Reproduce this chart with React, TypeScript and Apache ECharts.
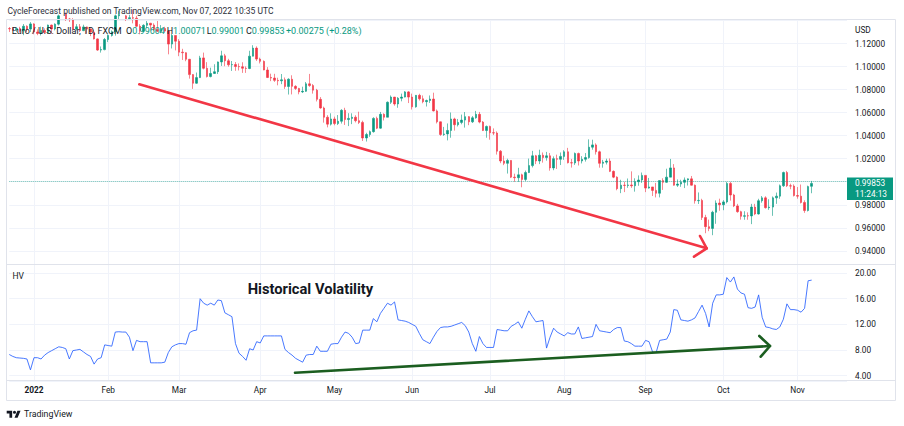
import React, { useEffect, useRef } from 'react';
import * as echarts from 'echarts';

// ---------- DATA (EUR/USD daily, [open, close, low, high]) ----------
const dec21 = [
  [1.1330, 1.1327, 1.1300, 1.1343], [1.1327, 1.1320, 1.1310, 1.1340], [1.1320, 1.1330, 1.1300, 1.1335],
  [1.1330, 1.1310, 1.1295, 1.1345], [1.1310, 1.1350, 1.1272, 1.1369], [1.1350, 1.1325, 1.1300, 1.1358],
  [1.1325, 1.1370, 1.1300, 1.1386],
];
const jan22 = [
  [1.1370, 1.1300, 1.1280, 1.1376], [1.1300, 1.1287, 1.1272, 1.1323], [1.1287, 1.1313, 1.1270, 1.1346],
  [1.1313, 1.1296, 1.1285, 1.1331], [1.1296, 1.1360, 1.1286, 1.1364], [1.1360, 1.1326, 1.1285, 1.1364],
  [1.1326, 1.1368, 1.1314, 1.1375], [1.1368, 1.1440, 1.1356, 1.1451], [1.1440, 1.1455, 1.1426, 1.1482],
  [1.1455, 1.1413, 1.1396, 1.1469], [1.1413, 1.1408, 1.1387, 1.1422], [1.1408, 1.1326, 1.1313, 1.1420],
  [1.1326, 1.1345, 1.1312, 1.1368], [1.1345, 1.1312, 1.1300, 1.1369], [1.1312, 1.1344, 1.1307, 1.1363],
  [1.1344, 1.1325, 1.1285, 1.1347], [1.1325, 1.1300, 1.1264, 1.1330], [1.1300, 1.1240, 1.1235, 1.1320],
  [1.1240, 1.1143, 1.1136, 1.1245], [1.1143, 1.1147, 1.1121, 1.1174], [1.1147, 1.1235, 1.1141, 1.1248],
];
const feb22 = [
  [1.1235, 1.1270, 1.1212, 1.1280], [1.1270, 1.1302, 1.1260, 1.1314], [1.1302, 1.1440, 1.1268, 1.1451],
  [1.1440, 1.1452, 1.1405, 1.1483], [1.1452, 1.1440, 1.1418, 1.1475], [1.1440, 1.1415, 1.1395, 1.1446],
  [1.1415, 1.1424, 1.1409, 1.1449], [1.1424, 1.1420, 1.1375, 1.1495], [1.1420, 1.1350, 1.1341, 1.1440],
  [1.1350, 1.1307, 1.1280, 1.1368], [1.1307, 1.1358, 1.1300, 1.1367], [1.1358, 1.1376, 1.1335, 1.1395],
  [1.1376, 1.1360, 1.1314, 1.1379], [1.1360, 1.1322, 1.1310, 1.1375], [1.1322, 1.1306, 1.1300, 1.1395],
  [1.1306, 1.1330, 1.1289, 1.1360], [1.1330, 1.1308, 1.1297, 1.1345], [1.1308, 1.1195, 1.1106, 1.1312],
  [1.1195, 1.1270, 1.1157, 1.1283], [1.1270, 1.1220, 1.1140, 1.1271],
];
const mar22 = [
  [1.1220, 1.1125, 1.1090, 1.1238], [1.1125, 1.1120, 1.1057, 1.1154], [1.1120, 1.1063, 1.1046, 1.1124],
  [1.1063, 1.0930, 1.0895, 1.1066], [1.0930, 1.0855, 1.0806, 1.0934], [1.0855, 1.0904, 1.0850, 1.0948],
  [1.0904, 1.1075, 1.0900, 1.1093], [1.1075, 1.0985, 1.0975, 1.1121], [1.0985, 1.0913, 1.0905, 1.1038],
  [1.0913, 1.0940, 1.0906, 1.0990], [1.0940, 1.0955, 1.0936, 1.1020], [1.0955, 1.1040, 1.0935, 1.1044],
  [1.1040, 1.1093, 1.1005, 1.1137], [1.1093, 1.1050, 1.1003, 1.1110], [1.1050, 1.1015, 1.0999, 1.1067],
  [1.1015, 1.1017, 1.0962, 1.1048], [1.1017, 1.1000, 1.0963, 1.1039], [1.1000, 1.0998, 1.0966, 1.1027],
  [1.0998, 1.0985, 1.0945, 1.1037], [1.0985, 1.0983, 1.0945, 1.1001], [1.0983, 1.1090, 1.0977, 1.1137],
  [1.1090, 1.1160, 1.1088, 1.1185], [1.1160, 1.1065, 1.1049, 1.1175],
];
const apr22 = [
  [1.1065, 1.1045, 1.1027, 1.1077], [1.1045, 1.0970, 1.0968, 1.1053], [1.0970, 1.0905, 1.0900, 1.0995],
  [1.0905, 1.0900, 1.0873, 1.0938], [1.0900, 1.0880, 1.0867, 1.0937], [1.0880, 1.0876, 1.0837, 1.0903],
  [1.0876, 1.0885, 1.0847, 1.0935], [1.0885, 1.0827, 1.0806, 1.0905], [1.0827, 1.0890, 1.0757, 1.0898],
  [1.0890, 1.0828, 1.0758, 1.0924], [1.0828, 1.0810, 1.0797, 1.0838], [1.0810, 1.0780, 1.0759, 1.0815],
  [1.0780, 1.0785, 1.0770, 1.0825], [1.0785, 1.0850, 1.0780, 1.0866], [1.0850, 1.0835, 1.0824, 1.0936],
  [1.0835, 1.0795, 1.0765, 1.0848], [1.0795, 1.0715, 1.0697, 1.0806], [1.0715, 1.0640, 1.0634, 1.0735],
  [1.0640, 1.0560, 1.0513, 1.0652], [1.0560, 1.0500, 1.0472, 1.0578], [1.0500, 1.0545, 1.0488, 1.0594],
];
const may22 = [
  [1.0545, 1.0505, 1.0490, 1.0565], [1.0505, 1.0525, 1.0492, 1.0579], [1.0525, 1.0620, 1.0505, 1.0630],
  [1.0620, 1.0540, 1.0493, 1.0642], [1.0540, 1.0550, 1.0483, 1.0595], [1.0550, 1.0560, 1.0500, 1.0594],
  [1.0560, 1.0530, 1.0515, 1.0577], [1.0530, 1.0515, 1.0501, 1.0608], [1.0515, 1.0380, 1.0354, 1.0530],
  [1.0380, 1.0410, 1.0349, 1.0425], [1.0410, 1.0435, 1.0390, 1.0445], [1.0435, 1.0550, 1.0426, 1.0560],
  [1.0550, 1.0465, 1.0457, 1.0565], [1.0465, 1.0585, 1.0460, 1.0606], [1.0585, 1.0560, 1.0532, 1.0594],
  [1.0560, 1.0690, 1.0560, 1.0697], [1.0690, 1.0735, 1.0675, 1.0749], [1.0735, 1.0675, 1.0660, 1.0736],
  [1.0675, 1.0725, 1.0642, 1.0735], [1.0725, 1.0735, 1.0698, 1.0765], [1.0735, 1.0780, 1.0732, 1.0787],
  [1.0780, 1.0735, 1.0683, 1.0787],
];
const jun22 = [
  [1.0735, 1.0650, 1.0627, 1.0765], [1.0650, 1.0750, 1.0643, 1.0752], [1.0750, 1.0720, 1.0705, 1.0764],
  [1.0720, 1.0695, 1.0681, 1.0749], [1.0695, 1.0705, 1.0653, 1.0713], [1.0705, 1.0718, 1.0684, 1.0749],
  [1.0718, 1.0615, 1.0610, 1.0773], [1.0615, 1.0520, 1.0506, 1.0627], [1.0520, 1.0410, 1.0398, 1.0522],
  [1.0410, 1.0415, 1.0398, 1.0476], [1.0415, 1.0445, 1.0359, 1.0506], [1.0445, 1.0545, 1.0382, 1.0601],
  [1.0545, 1.0495, 1.0444, 1.0556], [1.0495, 1.0515, 1.0480, 1.0545], [1.0515, 1.0535, 1.0499, 1.0583],
  [1.0535, 1.0565, 1.0470, 1.0605], [1.0565, 1.0520, 1.0491, 1.0570], [1.0520, 1.0555, 1.0510, 1.0570],
  [1.0555, 1.0585, 1.0547, 1.0615], [1.0585, 1.0518, 1.0507, 1.0606], [1.0518, 1.0445, 1.0440, 1.0527],
  [1.0445, 1.0480, 1.0382, 1.0488],
];
const jul22 = [
  [1.0480, 1.0425, 1.0365, 1.0487], [1.0425, 1.0423, 1.0405, 1.0463], [1.0423, 1.0265, 1.0236, 1.0437],
  [1.0265, 1.0180, 1.0161, 1.0275], [1.0180, 1.0160, 1.0144, 1.0226], [1.0160, 1.0185, 1.0071, 1.0200],
  [1.0185, 1.0040, 1.0032, 1.0187], [1.0040, 1.0035, 0.9999, 1.0070], [1.0035, 1.0060, 0.9998, 1.0121],
  [1.0060, 1.0020, 0.9952, 1.0070], [1.0020, 1.0080, 1.0006, 1.0097], [1.0080, 1.0140, 1.0075, 1.0201],
  [1.0140, 1.0225, 1.0124, 1.0268], [1.0225, 1.0180, 1.0153, 1.0233], [1.0180, 1.0230, 1.0153, 1.0278],
  [1.0230, 1.0210, 1.0166, 1.0254], [1.0210, 1.0225, 1.0183, 1.0259], [1.0225, 1.0120, 1.0096, 1.0249],
  [1.0120, 1.0200, 1.0100, 1.0220], [1.0200, 1.0195, 1.0111, 1.0235], [1.0195, 1.0220, 1.0145, 1.0254],
];
const aug22 = [
  [1.0220, 1.0260, 1.0190, 1.0274], [1.0260, 1.0165, 1.0159, 1.0294], [1.0165, 1.0163, 1.0123, 1.0198],
  [1.0163, 1.0245, 1.0146, 1.0254], [1.0245, 1.0180, 1.0141, 1.0253], [1.0180, 1.0195, 1.0159, 1.0222],
  [1.0195, 1.0210, 1.0175, 1.0249], [1.0210, 1.0300, 1.0200, 1.0368], [1.0300, 1.0320, 1.0278, 1.0365],
  [1.0320, 1.0260, 1.0236, 1.0333], [1.0260, 1.0160, 1.0122, 1.0270], [1.0160, 1.0170, 1.0122, 1.0190],
  [1.0170, 1.0180, 1.0150, 1.0200], [1.0180, 1.0090, 1.0084, 1.0202], [1.0090, 1.0040, 1.0031, 1.0098],
  [1.0040, 0.9940, 0.9926, 1.0047], [0.9940, 0.9970, 0.9901, 1.0017], [0.9970, 0.9968, 0.9910, 0.9999],
  [0.9968, 0.9972, 0.9947, 1.0028], [0.9972, 0.9965, 0.9947, 1.0090], [0.9965, 1.0000, 0.9914, 1.0030],
  [1.0000, 1.0015, 0.9965, 1.0055], [1.0015, 1.0055, 0.9990, 1.0080],
];
const sep22 = [
  [1.0055, 0.9945, 0.9910, 1.0056], [0.9945, 0.9955, 0.9940, 1.0033], [0.9955, 0.9925, 0.9876, 0.9955],
  [0.9925, 0.9900, 0.9864, 0.9990], [0.9900, 1.0010, 0.9864, 1.0011], [1.0010, 0.9995, 0.9929, 1.0030],
  [0.9995, 1.0040, 0.9990, 1.0113], [1.0040, 1.0120, 1.0040, 1.0198], [1.0120, 0.9970, 0.9966, 1.0153],
  [0.9970, 0.9980, 0.9955, 1.0020], [0.9980, 0.9995, 0.9956, 1.0017], [0.9995, 1.0015, 0.9945, 1.0037],
  [1.0015, 1.0025, 0.9967, 1.0029], [1.0025, 0.9970, 0.9967, 1.0050], [0.9970, 0.9835, 0.9810, 0.9976],
  [0.9835, 0.9838, 0.9807, 0.9907], [0.9838, 0.9690, 0.9668, 0.9852], [0.9690, 0.9610, 0.9553, 0.9713],
  [0.9610, 0.9595, 0.9571, 0.9671], [0.9595, 0.9735, 0.9536, 0.9748], [0.9735, 0.9815, 0.9635, 0.9838],
  [0.9815, 0.9800, 0.9748, 0.9853],
];
const oct22 = [
  [0.9800, 0.9825, 0.9753, 0.9840], [0.9825, 0.9985, 0.9812, 0.9999], [0.9985, 0.9885, 0.9836, 0.9999],
  [0.9885, 0.9790, 0.9780, 0.9895], [0.9790, 0.9740, 0.9731, 0.9808], [0.9740, 0.9700, 0.9671, 0.9748],
  [0.9700, 0.9705, 0.9670, 0.9744], [0.9705, 0.9703, 0.9670, 0.9734], [0.9703, 0.9780, 0.9632, 0.9808],
  [0.9780, 0.9720, 0.9710, 0.9808], [0.9720, 0.9835, 0.9715, 0.9852], [0.9835, 0.9860, 0.9818, 0.9876],
  [0.9860, 0.9775, 0.9767, 0.9874], [0.9775, 0.9780, 0.9756, 0.9848], [0.9780, 0.9860, 0.9704, 0.9872],
  [0.9860, 0.9875, 0.9808, 0.9906], [0.9875, 0.9965, 0.9852, 0.9976], [0.9965, 1.0080, 0.9955, 1.0088],
  [1.0080, 0.9965, 0.9954, 1.0094], [0.9965, 0.9962, 0.9935, 0.9983], [0.9962, 0.9880, 0.9872, 0.9977],
];
const nov22 = [
  [0.9880, 0.9875, 0.9853, 0.9954], [0.9875, 0.9820, 0.9811, 0.9976], [0.9820, 0.9750, 0.9730, 0.9839],
  [0.9750, 0.99578, 0.9742, 0.9966], [0.99604, 0.99853, 0.99001, 1.00071],
];

// Historical volatility (10) per bar
const hvDec = [7.3, 7.0, 6.8, 6.75, 6.7, 6.6, 4.9];
const hvJan = [6.8, 6.8, 6.6, 7.2, 7.6, 7.9, 8.2, 8.5, 8.4, 8.2, 6.6, 7.9, 8.0, 8.1, 7.7, 7.3, 7.0, 5.8, 6.6, 6.8, 8.8];
const hvFeb = [8.7, 8.6, 10.8, 10.85, 10.8, 10.8, 10.0, 7.9, 9.5, 9.3, 9.3, 9.3, 6.0, 6.0, 6.0, 6.0, 6.1, 7.6, 8.5, 8.8];
const hvMar = [9.0, 9.0, 8.9, 10.7, 11.0, 11.1, 16.0, 15.3, 15.0, 15.3, 15.0, 15.8, 15.7, 13.8, 13.5, 13.2, 9.0, 7.5, 7.0, 6.4, 8.2, 8.0, 9.3];
const hvApr = [9.1, 10.2, 10.2, 10.2, 10.2, 10.2, 10.2, 8.1, 7.6, 7.2, 6.7, 6.4, 6.1, 7.2, 7.3, 7.3, 8.6, 7.8, 7.8, 7.8, 8.9];
const hvMay = [9.0, 9.0, 10.0, 10.8, 10.6, 10.0, 9.0, 9.1, 11.1, 11.1, 11.1, 12.9, 12.4, 13.7, 14.5, 15.3, 15.0, 15.5, 12.7, 12.6, 12.5, 12.3];
const hvJun = [12.0, 11.7, 10.6, 9.6, 9.3, 9.0, 10.0, 10.9, 11.5, 11.6, 11.6, 11.7, 11.9, 12.1, 12.3, 11.8, 10.8, 9.0, 7.8, 10.1, 9.0, 8.4];
const hvJul = [8.4, 8.4, 11.2, 11.1, 11.0, 11.0, 11.7, 12.0, 12.4, 11.4, 12.8, 14.1, 13.2, 12.4, 12.5, 12.6, 8.3, 10.0, 11.4, 10.8, 10.5];
const hvAug = [10.2, 10.7, 10.5, 10.5, 11.6, 9.8, 9.9, 10.0, 10.1, 12.0, 11.0, 10.9, 10.8, 10.7, 11.2, 11.5, 11.5, 9.4, 9.3, 9.0, 8.6, 8.6, 8.6];
const hvSep = [9.5, 9.3, 7.7, 7.6, 9.5, 9.6, 9.7, 10.8, 14.3, 14.2, 12.7, 12.6, 12.5, 12.7, 13.0, 14.0, 15.0, 13.7, 11.6, 15.3, 16.6, 16.6];
const hvOct = [16.7, 19.3, 18.6, 19.4, 17.5, 16.9, 16.7, 14.6, 14.5, 14.7, 16.6, 13.1, 11.6, 11.5, 11.3, 11.2, 11.6, 12.8, 15.2, 14.3, 14.3];
const hvNov = [14.2, 13.9, 14.5, 18.8, 18.9];

const MONTHS = ['Jan', 'Feb', 'Mar', 'Apr', 'May', 'Jun', 'Jul', 'Aug', 'Sep', 'Oct', 'Nov', 'Dec'];
const LAST_CLOSE = 0.99853;
const CLOCK = '11:24:13';
const TITLE = 'CycleForecast published on TradingView.com, Nov 07, 2022 10:35 UTC';
const SYMBOL = 'Euro / U.S. Dollar, 1D, FXCM';
const LEGEND = [
  ['O', '0.99604'], ['H', '1.00071'], ['L', '0.99001'], ['C', '0.99853'], ['', '+0.00275 (+0.28%)'],
];
const PRICE_MIN = 0.92859;
const PRICE_MAX = 1.14127;
const HV_MIN = 3.166;
const HV_MAX = 21.416;
const RIGHT_PAD_BARS = 10;

// ---------- styling ----------
const UP = '#089981';
const DOWN = '#f23645';
const TEXT = '#131722';
const GRID = '#f0f3fa';
const BORDER = '#e0e3eb';
const FONT = 'Roboto, "Noto Sans", sans-serif';

echarts.graphic.registerShape(
  'tvlogo',
  echarts.graphic.extendPath('M14 22H7V11H0V4h14v18zM28 22h-8l7.5-18h8L28 22zM24 8a4 4 0 1 1-8 0a4 4 0 1 1 8 0z', {})
);

const ohlc = [...dec21, ...jan22, ...feb22, ...mar22, ...apr22, ...may22, ...jun22, ...jul22, ...aug22, ...sep22, ...oct22, ...nov22];
const hv = [...hvDec, ...hvJan, ...hvFeb, ...hvMar, ...hvApr, ...hvMay, ...hvJun, ...hvJul, ...hvAug, ...hvSep, ...hvOct, ...hvNov];

function buildDates(n: number): string[] {
  const out: string[] = [];
  let t = Date.UTC(2021, 11, 23);
  while (out.length < n) {
    const d = new Date(t);
    const wd = d.getUTCDay();
    if (wd !== 0 && wd !== 6) out.push(d.toISOString().slice(0, 10));
    t += 86400000;
  }
  return out;
}
const dates = buildDates(ohlc.length + RIGHT_PAD_BARS);
const isMonthStart = (i: number) => i > 0 && dates[i].slice(5, 7) !== dates[i - 1].slice(5, 7);

function txt(x: number, y: number, text: string, size: number, color: string, weight = 'normal', extra: any = {}) {
  return {
    type: 'text', x, y, z: 100, silent: true,
    style: {
      text, fill: color, fontSize: size, fontFamily: FONT, fontWeight: weight,
      align: 'left', verticalAlign: 'middle', textAlign: 'left', textVerticalAlign: 'middle', ...extra,
    },
  };
}

function buildGraphic(py: number) {
  const g: any[] = [];
  g.push({ type: 'rect', z: 90, silent: true, shape: { x: 6.5, y: 19.5, width: 889, height: 381 }, style: { fill: 'none', stroke: BORDER, lineWidth: 1 } });
  g.push({ type: 'line', z: 90, silent: true, shape: { x1: 6.5, y1: 264.5, x2: 895.5, y2: 264.5 }, style: { stroke: BORDER, lineWidth: 1 } });
  g.push({ type: 'line', z: 90, silent: true, shape: { x1: 6.5, y1: 380.5, x2: 895.5, y2: 380.5 }, style: { stroke: BORDER, lineWidth: 1 } });
  g.push(txt(7.5, 10.5, TITLE, 8.5, '#2a2e39'));
  g.push(txt(11.7, 30.7, SYMBOL, 9, TEXT));
  const lx = [126, 166.7, 206.7, 246, 286];
  LEGEND.forEach(([k, v], i) => {
    g.push({
      type: 'text', x: lx[i], y: 30.7, z: 100, silent: true,
      style: {
        text: (k ? `{l|${k}}` : '') + `{v|${v}}`, fontSize: 9, fontFamily: FONT,
        align: 'left', verticalAlign: 'middle', textAlign: 'left', textVerticalAlign: 'middle',
        rich: {
          l: { fill: TEXT, color: TEXT, fontSize: 9, fontFamily: FONT },
          v: { fill: UP, color: UP, fontSize: 9, fontFamily: FONT },
        },
      },
    });
  });
  g.push(txt(855, 29.5, 'USD', 8.3, TEXT));
  g.push(txt(12.5, 275.5, 'HV', 8.5, TEXT));
  g.push(txt(247.7, 289, 'Historical Volatility', 14.7, '#131722', 'bold'));
  // red arrow
  g.push({ type: 'polyline', z: 95, silent: true, shape: { points: [[139.3, 84.3], [706.7, 248.3]] }, style: { stroke: DOWN, lineWidth: 2.6, lineCap: 'round', fill: 'none' } });
  g.push({ type: 'polyline', z: 95, silent: true, shape: { points: [[700, 236], [706.7, 248.3], [694, 256.7]] }, style: { stroke: DOWN, lineWidth: 2.6, lineCap: 'round', lineJoin: 'round', fill: 'none' } });
  // green arrow
  g.push({ type: 'polyline', z: 95, silent: true, shape: { points: [[295, 372.7], [770, 346]] }, style: { stroke: '#1b5e20', lineWidth: 2.6, lineCap: 'round', fill: 'none' } });
  g.push({ type: 'polyline', z: 95, silent: true, shape: { points: [[759.3, 336], [770, 346], [760.7, 356.7]] }, style: { stroke: '#1b5e20', lineWidth: 2.6, lineCap: 'round', lineJoin: 'round', fill: 'none' } });
  // last price tag
  g.push({ type: 'rect', z: 98, silent: true, shape: { x: 847, y: py - 6, width: 46, height: 22.5 }, style: { fill: UP } });
  g.push(txt(855, py, LAST_CLOSE.toFixed(5), 8.3, '#ffffff'));
  g.push(txt(855, py + 10.2, CLOCK, 8.3, '#ffffff'));
  // TradingView footer
  g.push({ type: 'tvlogo', z: 100, silent: true, x: 6.7, y: 409.1, scaleX: 0.39, scaleY: 0.39, style: { fill: TEXT } });
  g.push(txt(24, 413.5, 'TradingView', 8.8, TEXT));
  return g;
}

export default function App() {
  const ref = useRef<HTMLDivElement>(null);
  useEffect(() => {
    document.body.style.margin = '0';
    const chart = echarts.init(ref.current!, null, { renderer: 'svg' });
    const labelInterval = (i: number) => isMonthStart(i);
    chart.setOption({
      animation: false,
      textStyle: { fontFamily: FONT },
      grid: [
        { left: 9.25, right: 57, top: 19, height: 245 },
        { left: 9.25, right: 57, top: 264, height: 117 },
      ],
      xAxis: [
        {
          type: 'category', gridIndex: 0, data: dates, boundaryGap: false,
          axisLine: { show: false }, axisTick: { show: false }, axisLabel: { show: false },
          splitLine: { show: true, interval: labelInterval, lineStyle: { color: GRID, width: 1 } },
        },
        {
          type: 'category', gridIndex: 1, data: dates, boundaryGap: false,
          axisLine: { show: false }, axisTick: { show: false },
          axisLabel: {
            show: true, interval: labelInterval, margin: 5, fontSize: 8.3, color: TEXT, fontFamily: FONT,
            formatter: (v: string) => {
              const m = +v.slice(5, 7);
              return m === 1 ? `{y|${v.slice(0, 4)}}` : MONTHS[m - 1];
            },
            rich: { y: { fontWeight: 'bold', fontSize: 8.3, color: TEXT, fontFamily: FONT } },
          },
          splitLine: { show: true, interval: labelInterval, lineStyle: { color: GRID, width: 1 } },
        },
      ],
      yAxis: [
        {
          type: 'value', gridIndex: 0, position: 'right', min: PRICE_MIN, max: PRICE_MAX,
          minInterval: 0.02, maxInterval: 0.02, splitNumber: 10,
          axisLine: { show: false }, axisTick: { show: false },
          axisLabel: {
            fontSize: 8.3, color: TEXT, margin: 8, fontFamily: FONT, showMinLabel: false, showMaxLabel: false,
            formatter: (v: number) => (v > 1.13 ? '' : v.toFixed(5)),
          },
          splitLine: { lineStyle: { color: GRID, width: 1 } },
        },
        {
          type: 'value', gridIndex: 1, position: 'right', min: HV_MIN, max: HV_MAX,
          minInterval: 4, maxInterval: 4, splitNumber: 5,
          axisLine: { show: false }, axisTick: { show: false },
          axisLabel: {
            fontSize: 8.3, color: TEXT, margin: 8, fontFamily: FONT, showMinLabel: false, showMaxLabel: false,
            formatter: (v: number) => v.toFixed(2),
          },
          splitLine: { lineStyle: { color: GRID, width: 1 } },
        },
      ],
      series: [
        {
          type: 'candlestick', xAxisIndex: 0, yAxisIndex: 0, data: ohlc, barWidth: 2, clip: true,
          itemStyle: { color: UP, color0: DOWN, borderColor: UP, borderColor0: DOWN, borderWidth: 0.6 },
          markLine: {
            silent: true, symbol: ['none', 'none'], animation: false,
            data: [{ yAxis: LAST_CLOSE }],
            lineStyle: { type: [1, 1], color: UP, width: 1, opacity: 0.55 },
            label: { show: false },
          },
        },
        {
          type: 'line', xAxisIndex: 1, yAxisIndex: 1, data: hv, showSymbol: false, symbol: 'none',
          lineStyle: { color: '#2962ff', width: 1, opacity: 0.85 },
        },
      ],
    });
    const py = chart.convertToPixel({ yAxisIndex: 0 }, LAST_CLOSE) as number;
    chart.setOption({ graphic: buildGraphic(py) });
    return () => chart.dispose();
  }, []);
  return <div ref={ref} style={{ width: 904, height: 426, background: '#fff' }} />;
}
